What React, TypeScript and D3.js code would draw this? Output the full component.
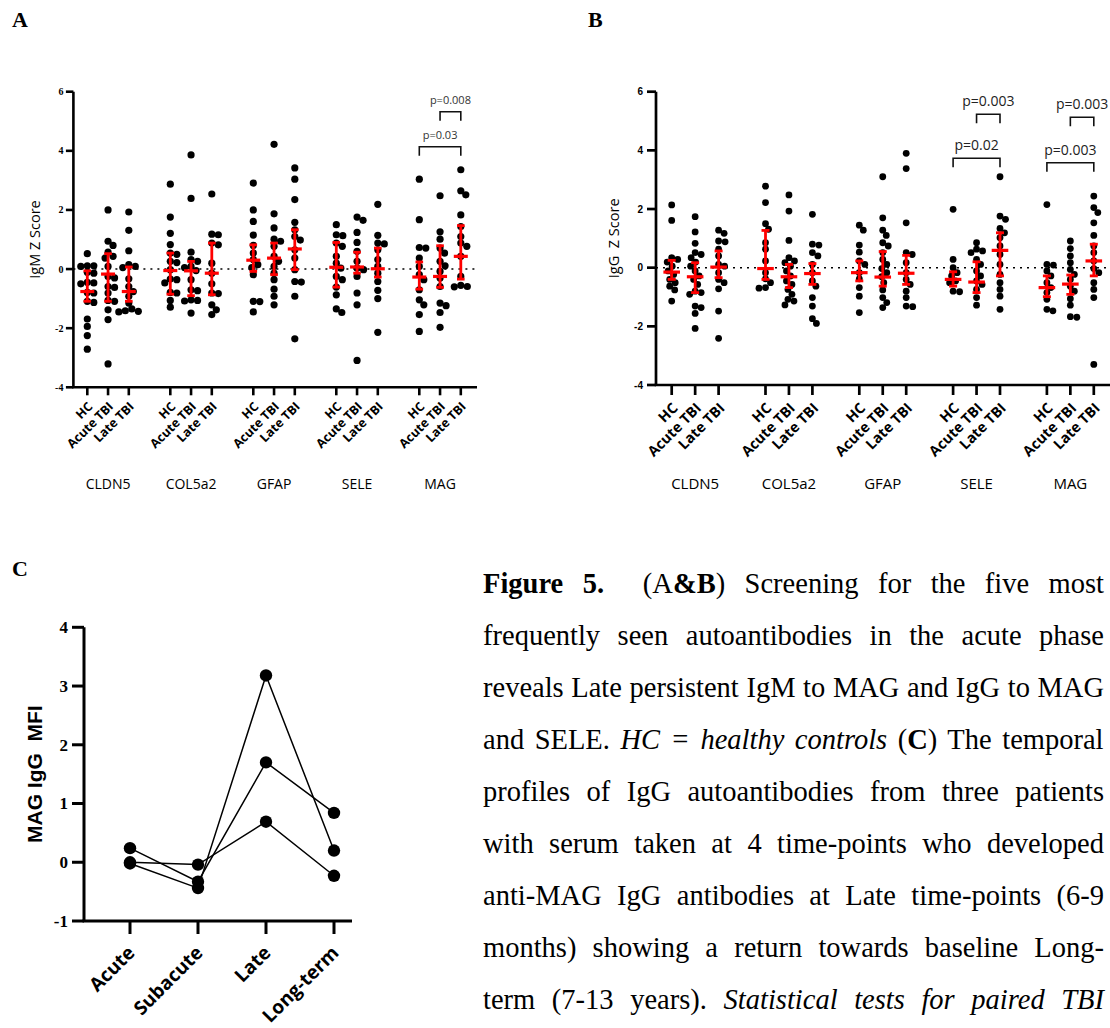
import React from "react";
import * as d3 from "d3";

// ---------- Panels A & B: categories ----------
const antigens = ["CLDN5", "COL5a2", "GFAP", "SELE", "MAG"];
const cohorts = ["HC", "Acute TBI", "Late TBI"];
const yTicksAB = [-4, -2, 0, 2, 4, 6];

// ---------- Panel A: IgM Z scores [HC, Acute TBI, Late TBI] ----------
const igmCLDN5 = [
  [0.52, 0.11, 0.11, 0.09, -0.11, -0.14, -0.45, -0.47, -0.5, -0.79, -0.81, -1.09, -1.13, -1.69, -1.94, -2.25, -2.71],
  [2.0, 0.94, 0.8, 0.57, 0.43, 0.37, 0.09, -0.25, -0.3, -0.59, -0.62, -0.81, -1.06, -1.09, -1.38, -1.71, -3.21],
  [1.93, 1.31, 0.62, 0.15, 0.09, 0.05, -0.33, -0.59, -0.76, -0.92, -1.15, -1.35, -1.41, -1.43, -1.45],
];
const igmCOL5a2 = [
  [2.87, 1.76, 1.21, 0.83, 0.54, 0.5, 0.26, 0.22, -0.02, -0.34, -0.36, -0.47, -0.79, -0.81, -1.06, -1.29],
  [3.86, 2.39, 0.57, 0.32, 0.26, 0.09, 0.05, -0.05, -0.36, -0.7, -0.73, -1.04, -1.06, -1.08, -1.49],
  [2.54, 1.18, 1.16, 0.88, 0.82, 0.2, -0.14, -0.5, -0.81, -0.83, -1.21, -1.38, -1.54],
];
const igmGFAP = [
  [2.91, 2.0, 1.61, 1.15, 0.8, 0.54, 0.32, 0.15, 0.05, -0.19, -1.09, -1.1, -1.45],
  [4.22, 1.87, 1.39, 1.01, 0.94, 0.77, 0.43, 0.26, 0.09, -0.14, -0.36, -0.68, -0.92, -1.21],
  [3.42, 3.04, 2.35, 1.58, 1.33, 1.1, 0.98, 0.65, 0.37, -0.02, -0.42, -0.44, -0.92, -2.36],
];
const igmSELE = [
  [1.5, 1.16, 1.13, 0.88, 0.77, 0.43, 0.2, 0.03, -0.25, -0.36, -0.61, -0.87, -1.35, -1.47],
  [1.76, 1.65, 1.24, 0.9, 0.6, 0.26, 0.03, -0.02, -0.25, -0.81, -1.21, -3.09],
  [2.19, 1.14, 0.88, 0.85, 0.65, 0.32, 0.09, -0.14, -0.42, -0.72, -1.0, -2.14],
];
const igmMAG = [
  [3.04, 1.67, 0.73, 0.71, 0.37, 0.09, -0.19, -0.36, -0.7, -1.04, -1.21, -1.54, -2.11],
  [2.48, 1.26, 1.01, 0.71, 0.54, 0.26, 0.11, -0.08, -0.3, -0.59, -1.15, -1.24, -1.47, -1.97],
  [3.36, 2.65, 2.51, 1.83, 1.44, 1.1, 0.88, 0.77, 0.43, -0.25, -0.55, -0.59, -0.6],
];
// median and interquartile range, 15 groups in antigen/cohort order
const igmMedian = [-0.76, -0.17, -0.76, -0.05, -0.06, -0.14, 0.3, 0.37, 0.68, 0.06, 0.07, 0.01, -0.27, -0.25, 0.43];
const igmQ1 = [-1.09, -1.09, -1.09, -0.85, -0.9, -0.87, -0.08, -0.19, -0.02, -0.61, -0.14, -0.27, -0.68, -0.62, -0.34];
const igmQ3 = [-0.06, 0.52, 0.07, 0.54, 0.26, 0.88, 0.82, 0.88, 1.33, 0.9, 0.57, 0.71, 0.24, 0.79, 1.47];
const igmTests = [
  { from: 16, to: 18, y: 4.14, label: "p=0.03" },
  { from: 17, to: 18, y: 5.32, label: "p=0.008" },
];

// ---------- Panel B: IgG Z scores [HC, Acute TBI, Late TBI] ----------
const iggCLDN5 = [
  [2.14, 1.61, 0.34, 0.28, 0.19, 0.05, -0.11, -0.23, -0.4, -0.51, -0.63, -0.76, -1.14],
  [1.74, 1.22, 0.83, 0.51, 0.45, 0.34, 0.19, 0.05, -0.11, -0.28, -0.4, -0.57, -0.8, -0.85, -0.91, -1.31, -1.36, -1.56, -2.07],
  [1.28, 1.17, 0.91, 0.88, 0.63, 0.4, 0.11, 0.05, -0.17, -0.4, -0.51, -0.72, -1.48, -2.41],
];
const iggCOL5a2 = [
  [2.78, 2.22, 1.5, 1.31, 0.85, 0.63, 0.23, -0.17, -0.38, -0.51, -0.68, -0.7],
  [2.48, 1.93, 0.93, 0.34, 0.23, 0.17, 0.05, -0.11, -0.28, -0.45, -0.57, -0.74, -0.91, -1.08, -1.14, -1.27],
  [1.82, 0.8, 0.77, 0.51, 0.4, 0.11, -0.17, -0.45, -0.63, -1.02, -1.31, -1.74, -1.9],
];
const iggGFAP = [
  [1.45, 1.28, 0.77, 0.53, 0.23, 0.11, -0.17, -0.38, -0.68, -0.97, -1.53],
  [3.1, 1.7, 1.28, 1.1, 0.85, 0.74, 0.51, 0.28, 0.11, -0.03, -0.17, -0.31, -0.51, -0.76, -1.02, -1.19, -1.36],
  [3.9, 3.38, 1.53, 0.51, 0.45, 0.17, -0.17, -0.4, -0.57, -0.8, -1.02, -1.31, -1.33],
];
const iggSELE = [
  [1.99, 0.28, 0.0, -0.17, -0.28, -0.45, -0.51, -0.8, -0.82],
  [0.85, 0.63, 0.57, 0.51, 0.28, 0.11, -0.11, -0.28, -0.45, -0.57, -0.74, -1.02, -1.28],
  [3.1, 1.76, 1.65, 1.34, 1.19, 1.02, 0.74, 0.45, 0.11, -0.23, -0.51, -0.74, -0.97, -1.42],
];
const iggMAG = [
  [2.15, 0.11, 0.09, -0.11, -0.28, -0.51, -0.68, -0.85, -1.08, -1.42, -1.47],
  [0.91, 0.65, 0.4, 0.17, -0.06, -0.23, -0.4, -0.63, -0.8, -1.06, -1.28, -1.67, -1.69],
  [2.44, 2.05, 1.88, 1.53, 1.1, 0.74, 0.51, 0.23, -0.03, -0.17, -0.51, -0.74, -1.02, -3.3],
];
const iggMedian = [-0.15, -0.31, 0.02, -0.03, -0.31, -0.2, -0.17, -0.32, -0.19, -0.4, -0.49, 0.59, -0.68, -0.56, 0.23];
const iggQ1 = [-0.4, -0.85, -0.34, -0.4, -0.68, -0.57, -0.45, -0.63, -0.57, -0.63, -0.85, -0.28, -0.99, -0.91, -0.28];
const iggQ3 = [0.25, 0.17, 0.57, 1.27, 0.11, 0.14, 0.23, 0.55, 0.42, -0.14, 0.2, 1.19, -0.28, -0.25, 0.8];
const iggTests = [
  { from: 12, to: 14, y: 3.73, label: "p=0.02" },
  { from: 13, to: 14, y: 5.23, label: "p=0.003" },
  { from: 16, to: 18, y: 3.58, label: "p=0.003" },
  { from: 17, to: 18, y: 5.13, label: "p=0.003" },
];

// ---------- Panel C ----------
const timepoints = ["Acute", "Subacute", "Late", "Long-term"];
const patient1 = [0.24, -0.33, 1.7, 0.84];
const patient2 = [-0.02, -0.44, 3.18, 0.2];
const patient3 = [0.0, -0.04, 0.69, -0.23];
const yTicksC = [-1, 0, 1, 2, 3, 4];

// ---------- Caption ----------
type Seg = { t: string; b?: boolean; i?: boolean };
const captionLines: Seg[][] = [
  [{ t: "Figure 5.", b: true }, { t: "  (A" }, { t: "&B", b: true }, { t: ") Screening for the five most" }],
  [{ t: "frequently seen autoantibodies in the acute phase" }],
  [{ t: "reveals Late persistent IgM to MAG and IgG to MAG" }],
  [{ t: "and SELE. " }, { t: "HC = healthy controls", i: true }, { t: " (" }, { t: "C", b: true }, { t: ") The temporal" }],
  [{ t: "profiles of IgG autoantibodies from three patients" }],
  [{ t: "with serum taken at 4 time-points who developed" }],
  [{ t: "anti-MAG IgG antibodies at Late time-points (6-9" }],
  [{ t: "months) showing a return towards baseline Long-" }],
  [{ t: "term (7-13 years). " }, { t: "Statistical tests for paired TBI", i: true }],
];

const SERIF = '"Liberation Serif", "Times New Roman", serif';
const SANS = '"Open Sans", "Liberation Sans", sans-serif';
const ARIAL = '"Liberation Sans", Arial, sans-serif';

function swarm(values: number[], y: (v: number) => number, r: number) {
  const pts = values.map((v) => ({ v, py: y(v) })).sort((a, b) => a.py - b.py);
  const placed: { x: number; y: number }[] = [];
  const minD = 2 * r * 0.9;
  const step = 0.5;
  for (const p of pts) {
    let k = 0;
    let off = 0;
    for (;;) {
      const n = Math.ceil(k / 2);
      const cand = k === 0 ? 0 : k % 2 === 1 ? n * step : -n * step;
      if (placed.every((q) => (q.x - cand) ** 2 + (q.y - p.py) ** 2 >= minD * minD)) {
        off = cand;
        break;
      }
      k++;
    }
    placed.push({ x: off, y: p.py });
  }
  return placed;
}

type PanelCfg = {
  data: number[][][];
  median: number[];
  q1: number[];
  q3: number[];
  tests: { from: number; to: number; y: number; label: string }[];
  x: d3.ScaleLinear<number, number>;
  y: d3.ScaleLinear<number, number>;
  axisLeft: number;
  axisRight: number;
  r: number;
  medW: number;
  capW: number;
  yLabel: string;
  yLabelX: number;
  tickFont: string;
  tickSize: number;
  tickLen: number;
  tickLabelGap: number;
  xTickLen: number;
  xLabelSize: number;
  xLabelDx: number;
  xLabelDy: number;
  catSize: number;
  pSize: number;
  pColor: string;
  axisW: number;
};

function DotPanel({ c }: { c: PanelCfg }) {
  const y0 = c.y(-4);
  const yTop = c.y(6);
  const elems: React.ReactNode[] = [];
  c.data.forEach((ag, a) => {
    ag.forEach((vals, k) => {
      const slot = a * 4 + k;
      const cx = c.x(slot);
      const pos = swarm(vals, c.y, c.r);
      pos.forEach((p, i) =>
        elems.push(<circle key={`d${slot}-${i}`} cx={cx + p.x} cy={p.y} r={c.r} fill="#000" />)
      );
    });
  });
  const bars: React.ReactNode[] = [];
  c.median.forEach((m, g) => {
    const a = Math.floor(g / 3);
    const k = g % 3;
    const cx = c.x(a * 4 + k);
    bars.push(
      <g key={`e${g}`} stroke="#ff0000">
        <line x1={cx} x2={cx} y1={c.y(c.q1[g])} y2={c.y(c.q3[g])} strokeWidth={2.8} />
        <line x1={cx - c.capW} x2={cx + c.capW} y1={c.y(c.q1[g])} y2={c.y(c.q1[g])} strokeWidth={2.8} />
        <line x1={cx - c.capW} x2={cx + c.capW} y1={c.y(c.q3[g])} y2={c.y(c.q3[g])} strokeWidth={2.8} />
        <line x1={cx - c.medW} x2={cx + c.medW} y1={c.y(m)} y2={c.y(m)} strokeWidth={3.2} />
      </g>
    );
  });
  const yMid = (y0 + yTop) / 2;
  return (
    <g>
      {/* zero reference line */}
      <line x1={c.axisLeft} x2={c.axisRight} y1={c.y(0)} y2={c.y(0)} stroke="#000" strokeWidth={1.6} strokeDasharray="2 5" />
      {elems}
      {bars}
      {/* axes */}
      <line x1={c.axisLeft} x2={c.axisLeft} y1={yTop} y2={y0} stroke="#000" strokeWidth={c.axisW} />
      <line x1={c.axisLeft - c.axisW / 2} x2={c.axisRight} y1={y0} y2={y0} stroke="#000" strokeWidth={c.axisW} />
      {yTicksAB.map((t) => (
        <g key={`yt${t}`}>
          <line x1={c.axisLeft - c.tickLen} x2={c.axisLeft} y1={c.y(t)} y2={c.y(t)} stroke="#000" strokeWidth={c.axisW} />
          <text x={c.axisLeft - c.tickLabelGap} y={c.y(t)} dy="0.35em" textAnchor="end" fontFamily={c.tickFont} fontWeight="bold" fontSize={c.tickSize}>
            {t}
          </text>
        </g>
      ))}
      <text transform={`translate(${c.yLabelX},${yMid}) rotate(-90)`} textAnchor="middle" fontFamily={SANS} fontSize={14.5} style={{ whiteSpace: "pre" }}>
        {c.yLabel}
      </text>
      {antigens.map((ag, a) =>
        cohorts.map((co, k) => {
          const cx = c.x(a * 4 + k);
          return (
            <g key={`xt${a}-${k}`}>
              <line x1={cx} x2={cx} y1={y0} y2={y0 + c.xTickLen} stroke="#000" strokeWidth={c.axisW} />
              <text transform={`translate(${cx + c.xLabelDx},${y0 + c.xLabelDy}) rotate(-45)`} textAnchor="end" fontFamily={SANS} fontWeight="bold" fontSize={c.xLabelSize}>
                {co}
              </text>
            </g>
          );
        })
      )}
      {antigens.map((ag, a) => (
        <text key={`cat${a}`} x={c.x(a * 4 + 1)} y={489} textAnchor="middle" fontFamily={SANS} fontSize={c.catSize}>
          {ag}
        </text>
      ))}
      {c.tests.map((t, i) => {
        const xa = c.x(t.from);
        const xb = c.x(t.to);
        const yy = c.y(t.y);
        return (
          <g key={`p${i}`}>
            <path d={`M${xa},${yy + 9}V${yy}H${xb}V${yy + 9}`} fill="none" stroke="#111" strokeWidth={1.6} />
            <text x={(xa + xb) / 2} y={yy - 8} textAnchor="middle" fontFamily={SANS} fontSize={c.pSize} fill={c.pColor}>
              {t.label}
            </text>
          </g>
        );
      })}
    </g>
  );
}

function PanelC() {
  const x = d3.scalePoint<string>().domain(timepoints).range([130, 334]);
  const y = d3.scaleLinear().domain([-1, 4]).range([921, 627.3]);
  const line = d3
    .line<number>()
    .x((_, i) => x(timepoints[i]) as number)
    .y((v) => y(v));
  const patients = [patient1, patient2, patient3];
  const ax = 84;
  const y0 = y(-1);
  return (
    <g>
      {patients.map((p, i) => (
        <path key={`l${i}`} d={line(p) || ""} fill="none" stroke="#000" strokeWidth={1.5} />
      ))}
      {patients.map((p, i) =>
        p.map((v, j) => <circle key={`c${i}-${j}`} cx={x(timepoints[j]) as number} cy={y(v)} r={6.2} fill="#000" />)
      )}
      <line x1={ax} x2={ax} y1={y(4)} y2={y0} stroke="#000" strokeWidth={3} />
      <line x1={ax - 1.5} x2={352} y1={y0} y2={y0} stroke="#000" strokeWidth={3} />
      {yTicksC.map((t) => (
        <g key={`cy${t}`}>
          <line x1={ax - 12} x2={ax} y1={y(t)} y2={y(t)} stroke="#000" strokeWidth={3} />
          <text x={ax - 16} y={y(t)} dy="0.35em" textAnchor="end" fontFamily={SERIF} fontWeight="bold" fontSize={17}>
            {t}
          </text>
        </g>
      ))}
      {timepoints.map((t) => {
        const cx = x(t) as number;
        return (
          <g key={`cx${t}`}>
            <line x1={cx} x2={cx} y1={y0} y2={y0 + 13} stroke="#000" strokeWidth={3} />
            <text transform={`translate(${cx + 6},${y0 + 33}) rotate(-45)`} textAnchor="end" fontFamily={SANS} fontWeight="bold" fontSize={19}>
              {t}
            </text>
          </g>
        );
      })}
      <text transform={`translate(42,${(y(4) + y0) / 2}) rotate(-90)`} textAnchor="middle" fontFamily={ARIAL} fontWeight="bold" fontSize={21} style={{ whiteSpace: "pre" }}>
        {"MAG IgG  MFI"}
      </text>
    </g>
  );
}

function Caption() {
  const W = 621;
  const X0 = 483;
  const size = 28.5;
  const canvas = typeof document !== "undefined" ? document.createElement("canvas") : null;
  const ctx = canvas ? canvas.getContext("2d") : null;
  const measure = (s: Seg) => {
    if (!ctx) return s.t.length * size * 0.45;
    ctx.font = `${s.i ? "italic " : ""}${s.b ? "bold " : ""}${size}px "Liberation Serif"`;
    return ctx.measureText(s.t).width;
  };
  return (
    <g>
      {captionLines.map((segs, li) => {
        const natural = segs.reduce((acc, s) => acc + measure(s), 0);
        const spaces = segs.reduce((acc, s) => acc + (s.t.match(/ /g) || []).length, 0);
        const ws = spaces > 0 ? (W - natural) / spaces : 0;
        return (
          <text key={`cap${li}`} x={X0} y={593 + li * 52} fontFamily={SERIF} fontSize={size} style={{ whiteSpace: "pre", wordSpacing: `${ws}px` }}>
            {segs.map((s, si) => (
              <tspan key={si} fontWeight={s.b ? "bold" : "normal"} fontStyle={s.i ? "italic" : "normal"}>
                {s.t}
              </tspan>
            ))}
          </text>
        );
      })}
    </g>
  );
}

export default function App() {
  const cfgA: PanelCfg = {
    data: [igmCLDN5, igmCOL5a2, igmGFAP, igmSELE, igmMAG],
    median: igmMedian,
    q1: igmQ1,
    q3: igmQ3,
    tests: igmTests,
    x: d3.scaleLinear().domain([0, 18]).range([87.3, 460.8]),
    y: d3.scaleLinear().domain([-4, 6]).range([387.3, 91.7]),
    axisLeft: 73.4,
    axisRight: 477,
    r: 3.6,
    medW: 7,
    capW: 3.8,
    yLabel: "IgM Z Score",
    yLabelX: 39.5,
    tickFont: SERIF,
    tickSize: 10,
    tickLen: 7.5,
    tickLabelGap: 10,
    xTickLen: 8,
    xLabelSize: 12.5,
    xLabelDx: 6,
    xLabelDy: 20,
    catSize: 14,
    pSize: 11,
    pColor: "#333",
    axisW: 2.6,
  };
  const cfgB: PanelCfg = {
    data: [iggCLDN5, iggCOL5a2, iggGFAP, iggSELE, iggMAG],
    median: iggMedian,
    q1: iggQ1,
    q3: iggQ3,
    tests: iggTests,
    x: d3.scaleLinear().domain([0, 18]).range([671.7, 1093.8]),
    y: d3.scaleLinear().domain([-4, 6]).range([385, 91.7]),
    axisLeft: 656,
    axisRight: 1110,
    r: 3.4,
    medW: 8.3,
    capW: 4,
    yLabel: "IgG  Z Score",
    yLabelX: 619,
    tickFont: ARIAL,
    tickSize: 10,
    tickLen: 9,
    tickLabelGap: 13,
    xTickLen: 10,
    xLabelSize: 14.5,
    xLabelDx: 7,
    xLabelDy: 24,
    catSize: 15,
    pSize: 14,
    pColor: "#222",
    axisW: 2.7,
  };
  return (
    <div style={{ position: "absolute", left: 0, top: 0, width: 1110, height: 1028, background: "#fff" }}>
      <svg width={1110} height={1028} style={{ display: "block" }}>
        <rect width={1110} height={1028} fill="#fff" />
        <text x={12} y={27} fontFamily={SERIF} fontWeight="bold" fontSize={22}>A</text>
        <text x={588} y={27} fontFamily={SERIF} fontWeight="bold" fontSize={22}>B</text>
        <text x={12} y={576} fontFamily={SERIF} fontWeight="bold" fontSize={22}>C</text>
        <DotPanel c={cfgA} />
        <DotPanel c={cfgB} />
        <PanelC />
        <Caption />
      </svg>
    </div>
  );
}
